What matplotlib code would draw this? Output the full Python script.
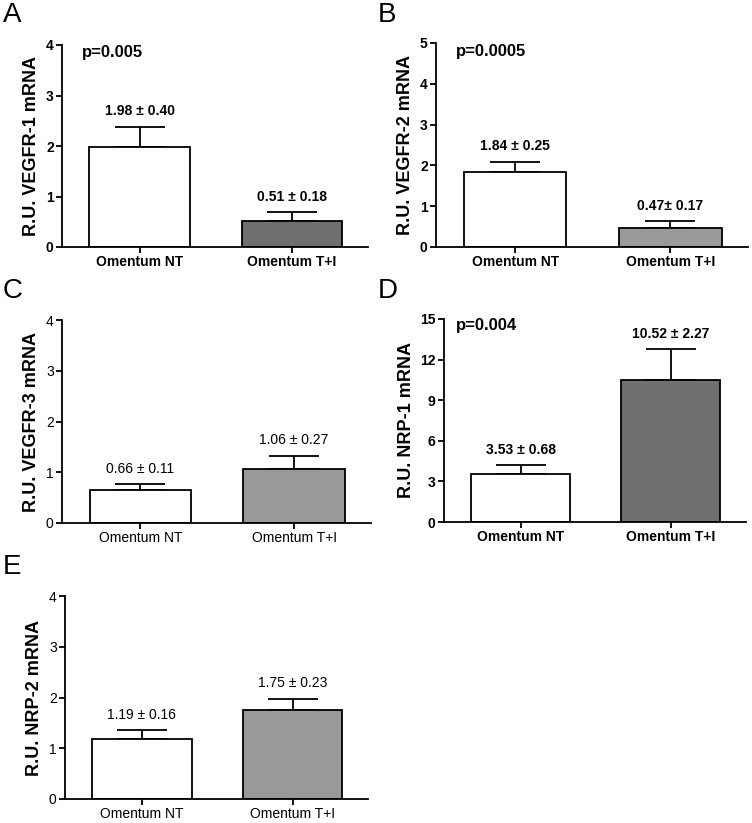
import matplotlib
matplotlib.use('Agg')
import matplotlib.pyplot as plt

plt.rcParams['font.family'] = ['Liberation Sans', 'DejaVu Sans']

groups = ['Omentum NT', 'Omentum T+I']

letters = ['A', 'B', 'C', 'D', 'E']
ylabels = ['R.U. VEGFR-1 mRNA', 'R.U. VEGFR-2 mRNA', 'R.U. VEGFR-3 mRNA',
           'R.U. NRP-1 mRNA', 'R.U. NRP-2 mRNA']
means = [[1.98, 0.51], [1.84, 0.47], [0.66, 1.06], [3.53, 10.52], [1.19, 1.75]]
sems = [[0.40, 0.18], [0.25, 0.17], [0.11, 0.27], [0.68, 2.27], [0.16, 0.23]]
labels = [['1.98 ± 0.40', '0.51 ± 0.18'], ['1.84 ± 0.25', '0.47± 0.17'],
          ['0.66 ± 0.11', '1.06 ± 0.27'], ['3.53 ± 0.68', '10.52 ± 2.27'],
          ['1.19 ± 0.16', '1.75 ± 0.23']]
pvals = ['p=0.005', 'p=0.0005', None, 'p=0.004', None]
ymax = [4, 5, 4, 15, 4]
yticks = [[0, 1, 2, 3, 4], [0, 1, 2, 3, 4, 5], [0, 1, 2, 3, 4],
          [0, 3, 6, 9, 12, 15], [0, 1, 2, 3, 4]]
bar2_color = ['#6f6f6f', '#9a9a9a', '#999999', '#707070', '#999999']
bold = [True, True, False, True, False]

W, H = 752, 823
# axes boxes in pixels: left, right, top, bottom
boxes = [(62, 368, 45, 247), (436, 748, 43, 247), (62, 371, 320, 523),
         (444, 746, 319, 522), (65, 368, 596, 799)]
letter_pos = [(3, 2), (378, 2), (3, 278), (378, 278), (3, 554)]
p_pos = [(0.065, 3.86), (0.064, 4.78), None, (0.04, 14.55), None]

fig = plt.figure(figsize=(W / 100, H / 100), dpi=100)

for i in range(5):
    l, r, t, b = boxes[i]
    ax = fig.add_axes([l / W, 1 - b / H, (r - l) / W, (b - t) / H])
    wt = 'bold' if bold[i] else 'normal'
    x = [0, 1]
    ax.bar(x, means[i], width=0.66, color=['white', bar2_color[i]],
           edgecolor='black', linewidth=1.3, zorder=2)
    ax.errorbar(x, means[i], yerr=[[0, 0], sems[i]], fmt='none',
                ecolor='black', elinewidth=1.3, capsize=18, capthick=1.3, zorder=1)
    for j in range(2):
        ax.annotate(labels[i][j], (x[j], means[i][j] + sems[i][j]),
                    xytext=(0, 6), textcoords='offset points',
                    ha='center', va='bottom', fontsize=10, fontweight=wt)
    ax.set_xlim(-0.51, 1.5)
    ax.set_ylim(0, ymax[i])
    ax.set_yticks(yticks[i])
    ax.set_xticks(x)
    ax.set_xticklabels(groups, fontsize=10, fontweight=wt)
    for lab in ax.get_yticklabels():
        lab.set_fontsize(10)
        lab.set_fontweight(wt)
    ax.tick_params(direction='out', length=4, width=1.3, pad=2)
    ax.spines['top'].set_visible(False)
    ax.spines['right'].set_visible(False)
    ax.spines['left'].set_linewidth(1.3)
    ax.spines['bottom'].set_linewidth(1.3)
    ax.set_ylabel(ylabels[i], fontsize=13, fontweight='bold', labelpad=4)
    if pvals[i]:
        ax.text(p_pos[i][0], p_pos[i][1], pvals[i], transform=ax.get_yaxis_transform(),
                ha='left', va='center', fontsize=12, fontweight='bold')
    fig.text(letter_pos[i][0] / W, 1 - letter_pos[i][1] / H, letters[i],
             ha='left', va='top', fontsize=20)

fig.savefig('out.png', dpi=100)
